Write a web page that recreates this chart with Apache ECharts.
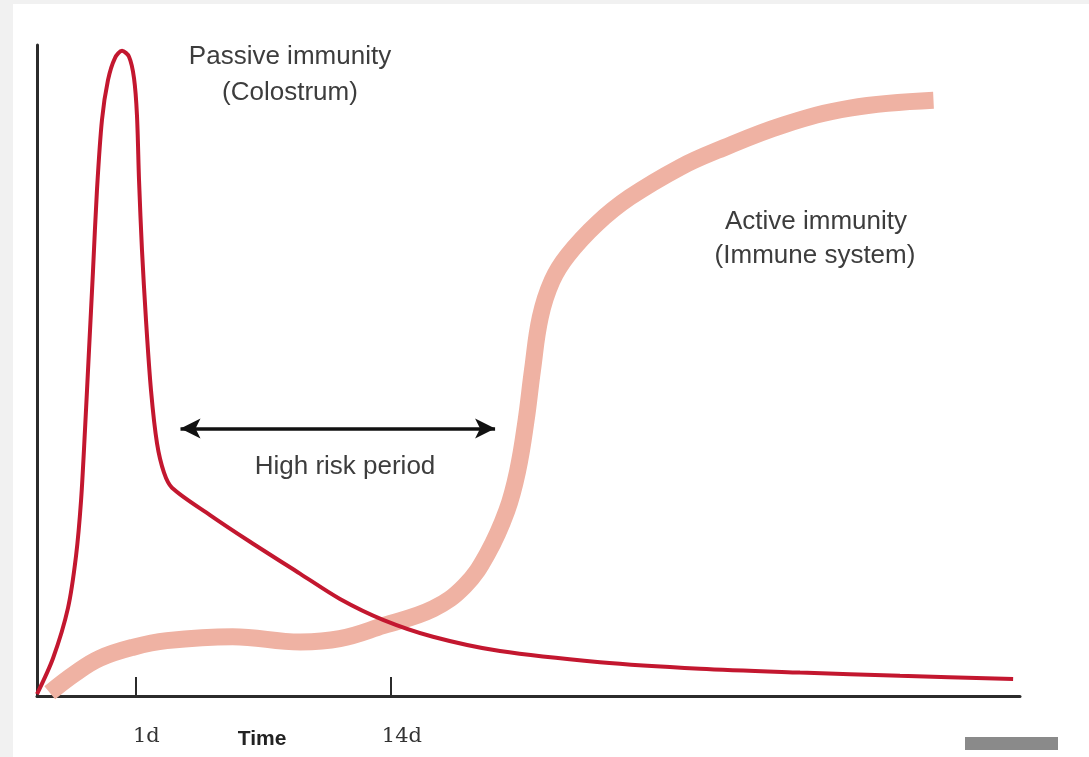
<!DOCTYPE html>
<html>
<head>
<meta charset="utf-8">
<script src="https://cdn.jsdelivr.net/npm/echarts@6/dist/echarts.min.js"></script>
<style>
html,body{margin:0;padding:0;background:#fff;}
#main{width:1089px;height:757px;}
</style>
</head>
<body>
<div id="main"></div>
<script>
// passive immunity (colostrum), time on 0-100 scale, level 0-100
var passiveTime = [0, 1.63, 3.15, 3.97, 4.48, 4.88, 5.29, 5.7, 6.1, 6.61, 7.22, 7.93, 8.65, 9.36, 9.87, 10.17, 10.38, 10.68, 11.09, 11.6, 12.21, 12.92, 13.73, 17.6, 21.67, 26.75, 30.82, 35.2, 40.28, 47.1, 57.27, 67.45, 77.62, 87.79, 99.3];
var passiveLevel = [0.3, 5.8, 13.5, 21.5, 30.0, 40.8, 53.1, 65.4, 77.7, 88.5, 94.6, 98.0, 99.1, 98.2, 94.9, 89.2, 79.2, 68.5, 57.7, 46.9, 38.8, 34.3, 32.0, 27.8, 23.7, 18.8, 14.9, 11.7, 9.1, 6.9, 5.2, 4.2, 3.6, 3.1, 2.6];

// active immunity (immune system)
var activeTime = [1.3, 3.9, 6.4, 9.8, 13.2, 19.9, 26.8, 30.8, 35.2, 40.3, 43.5, 45.8, 47.8, 48.9, 49.75, 50.4, 51.2, 52.4, 54.0, 57.0, 60.3, 65.4, 69.2, 75.9, 82.7, 91.2];
var activeLevel = [0.5, 3.5, 5.8, 7.5, 8.5, 9.1, 8.3, 8.8, 10.8, 13.4, 16.9, 21.8, 28.5, 34.6, 42.3, 50.0, 58.2, 63.8, 67.7, 72.6, 76.6, 81.2, 83.8, 87.7, 90.3, 91.5];

var tickValues = [10, 36];
var tickLabels = ['1d', '14d'];
var riskPeriod = [14.6, 46.6];
var riskLevel = 41.1;

function zip(xs, ys) {
	var out = [];
	for (var i = 0; i < xs.length; i++) {
		out.push([xs[i], ys[i]]);
	}
	return out;
}

var txtFont = '26px "Liberation Sans", Arial';
var myChart = echarts.init(document.getElementById('main'));
var option = {
	backgroundColor: '#fff',
	animation: false,
	grid: { left: 37, right: 69, top: 45, bottom: 61 },
	xAxis: {
		type: 'value',
		min: 0,
		max: 100,
		splitLine: { show: false },
		axisLine: { lineStyle: { color: '#2b2b2b', width: 3 } },
		axisTick: {
			show: true,
			inside: true,
			length: 19,
			customValues: tickValues,
			lineStyle: { color: '#2b2b2b', width: 2 }
		},
		axisLabel: {
			customValues: tickValues,
			margin: 30,
			padding: [0, 0, 0, 22],
			color: '#333',
			fontFamily: 'DejaVu Serif',
			fontSize: 21,
			formatter: function (v) {
				var i = tickValues.indexOf(v);
				return i >= 0 ? tickLabels[i] : '';
			}
		}
	},
	yAxis: {
		type: 'value',
		min: 0,
		max: 100,
		splitLine: { show: false },
		axisLine: { show: true, lineStyle: { color: '#2b2b2b', width: 3 } },
		axisTick: { show: false },
		axisLabel: { show: false }
	},
	series: [{
		name: 'Active immunity',
		type: 'line',
		data: zip(activeTime, activeLevel),
		smooth: 0.4,
		showSymbol: false,
		lineStyle: { color: '#efb2a3', width: 17, cap: 'butt' },
		z: 2
	}, {
		name: 'Passive immunity',
		type: 'line',
		data: zip(passiveTime, passiveLevel),
		smooth: 0.3,
		showSymbol: false,
		lineStyle: { color: '#c3172f', width: 4 },
		z: 3,
		markLine: {
			silent: true,
			symbol: ['arrow', 'arrow'],
			symbolSize: [15, 20],
			label: { show: false },
			lineStyle: { color: '#111', width: 3.5, type: 'solid' },
			data: [[{ coord: [riskPeriod[0], riskLevel] }, { coord: [riskPeriod[1], riskLevel] }]]
		}
	}],
	graphic: [
		{ type: 'rect', shape: { x: 0, y: 0, width: 1089, height: 4 }, style: { fill: '#f1f1f1' }, silent: true },
		{ type: 'rect', shape: { x: 0, y: 0, width: 13, height: 757 }, style: { fill: '#f1f1f1' }, silent: true },
		{ type: 'rect', shape: { x: 965, y: 737, width: 93, height: 13 }, style: { fill: '#8a8a8a' }, silent: true },
		{ type: 'text', x: 290, y: 57, style: { text: 'Passive immunity', fill: '#3d3d3d', font: txtFont, align: 'center', verticalAlign: 'middle' } },
		{ type: 'text', x: 290, y: 93, style: { text: '(Colostrum)', fill: '#3d3d3d', font: txtFont, align: 'center', verticalAlign: 'middle' } },
		{ type: 'text', x: 816, y: 222, style: { text: 'Active immunity', fill: '#3d3d3d', font: txtFont, align: 'center', verticalAlign: 'middle' } },
		{ type: 'text', x: 815, y: 256, style: { text: '(Immune system)', fill: '#3d3d3d', font: txtFont, align: 'center', verticalAlign: 'middle' } },
		{ type: 'text', x: 345, y: 467, style: { text: 'High risk period', fill: '#3d3d3d', font: txtFont, align: 'center', verticalAlign: 'middle' } },
		{ type: 'text', x: 262, y: 739, style: { text: 'Time', fill: '#222', font: 'bold 21px "Liberation Sans", Arial', align: 'center', verticalAlign: 'middle' } }
	]
};
myChart.setOption(option);
</script>
</body>
</html>
